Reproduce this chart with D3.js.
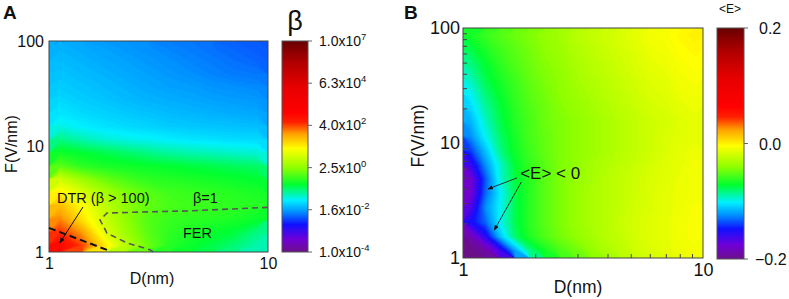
<!DOCTYPE html>
<html>
<head>
<meta charset="utf-8">
<script src="https://cdn.jsdelivr.net/npm/d3@7"></script>
<style>
body { margin: 0; background: #fff; }
text { font-family: "Liberation Sans", Arial, sans-serif; fill: #111; }
</style>
</head>
<body>
<script>
// ---- data ----
var dTicks = [1, 10];
var fTicks = [1, 10, 100];
var minorTicksD = [2, 3, 4, 5, 6, 7, 8, 9];
var minorTicksF = [2, 3, 4, 5, 6, 7, 8, 9, 20, 30, 40, 50, 60, 70, 80, 90];

var betaTicks = [1e-4, 1.6e-2, 2.5, 4.0e2, 6.3e4, 1e7];
var betaTickMantissa = ['1.0', '1.6', '2.5', '4.0', '6.3', '1.0'];
var betaTickExponent = ['-4', '-2', '0', '2', '4', '7'];
var energyTicks = [-0.2, 0.0, 0.2];

// colormap (position along the bar, colour)
var cmapPos = [0.00, 0.06, 0.13, 0.19, 0.245, 0.32, 0.40, 0.49, 0.56, 0.615, 0.66, 0.78, 0.90, 1.00];
var cmapColors = ['#6b1088', '#7000d8', '#1010ff', '#0090ff', '#00f0ff', '#00ff30', '#90ff00',
                  '#ffff00', '#ffa000', '#ff2000', '#ff0000', '#e80000', '#b00000', '#680000'];

// panel A: log10(beta), 10 columns (log D 0..1) x 16 rows (log F 2 -> 0, top row first)
var logBeta = [
  [-1.69, -1.75, -1.80, -1.86, -1.91, -1.97, -2.02, -2.08, -2.13, -2.19],
  [-1.64, -1.69, -1.75, -1.80, -1.86, -1.91, -1.97, -2.02, -2.08, -2.13],
  [-1.58, -1.64, -1.69, -1.75, -1.80, -1.86, -1.91, -1.97, -2.02, -2.04],
  [-1.53, -1.58, -1.64, -1.69, -1.75, -1.80, -1.83, -1.88, -1.91, -1.94],
  [-1.45, -1.53, -1.58, -1.64, -1.69, -1.72, -1.76, -1.80, -1.83, -1.86],
  [-1.36, -1.44, -1.49, -1.55, -1.59, -1.64, -1.67, -1.70, -1.73, -1.76],
  [-1.20, -1.31, -1.38, -1.44, -1.48, -1.53, -1.56, -1.58, -1.60, -1.62],
  [-0.81, -0.98, -1.11, -1.20, -1.25, -1.31, -1.36, -1.39, -1.42, -1.44],
  [-0.37, -0.48, -0.59, -0.70, -0.81, -0.92, -0.98, -1.03, -1.09, -1.14],
  [ 0.07, -0.21, -0.32, -0.37, -0.43, -0.48, -0.54, -0.59, -0.65, -0.70],
  [ 0.95,  0.51,  0.18, -0.04, -0.21, -0.26, -0.32, -0.37, -0.43, -0.48],
  [ 1.50,  1.06,  0.62,  0.29,  0.07, -0.10, -0.15, -0.21, -0.26, -0.32],
  [ 1.94,  1.39,  0.84,  0.40,  0.13, -0.04, -0.10, -0.15, -0.21, -0.26],
  [ 2.27,  1.61,  0.95,  0.40,  0.02, -0.15, -0.21, -0.26, -0.32, -0.43],
  [ 2.71,  2.16,  1.17,  0.51,  0.07, -0.21, -0.32, -0.43, -0.54, -0.81],
  [ 3.15,  2.60,  1.61,  0.73,  0.18, -0.26, -0.43, -0.59, -0.76, -0.98]
];

// panel B: <E>, 16 columns (log D 0..1) x 16 rows (log F 2 -> 0, top row first)
var energy = [
  [-.068, -.060, -.054, -.048, -.044, -.038, -.034, -.028, -.024, -.020, -.016, -.012, -.008, -.006, -.002, 0.000],
  [-.076, -.066, -.058, -.052, -.046, -.040, -.036, -.030, -.026, -.022, -.018, -.014, -.010, -.008, -.004, -.002],
  [-.084, -.072, -.062, -.054, -.048, -.042, -.038, -.032, -.028, -.024, -.020, -.016, -.012, -.010, -.006, -.004],
  [-.092, -.076, -.066, -.058, -.050, -.044, -.040, -.034, -.030, -.026, -.022, -.018, -.014, -.012, -.008, -.006],
  [-.100, -.082, -.070, -.060, -.052, -.046, -.040, -.036, -.032, -.028, -.024, -.020, -.016, -.014, -.010, -.008],
  [-.108, -.088, -.074, -.062, -.054, -.048, -.042, -.038, -.034, -.030, -.026, -.022, -.018, -.016, -.012, -.010],
  [-.116, -.094, -.076, -.064, -.056, -.048, -.044, -.040, -.036, -.032, -.028, -.024, -.020, -.018, -.014, -.012],
  [-.124, -.100, -.080, -.066, -.056, -.050, -.044, -.040, -.036, -.032, -.028, -.024, -.020, -.016, -.014, -.012],
  [-.140, -.112, -.084, -.068, -.058, -.050, -.044, -.040, -.036, -.032, -.028, -.024, -.020, -.016, -.012, -.010],
  [-.160, -.124, -.094, -.072, -.060, -.052, -.044, -.040, -.034, -.030, -.026, -.022, -.018, -.014, -.012, -.008],
  [-.180, -.136, -.096, -.074, -.062, -.052, -.044, -.038, -.034, -.028, -.024, -.020, -.016, -.014, -.010, -.008],
  [-.180, -.132, -.102, -.076, -.062, -.052, -.044, -.038, -.032, -.028, -.024, -.020, -.016, -.012, -.010, -.008],
  [-.168, -.124, -.100, -.076, -.062, -.052, -.044, -.038, -.032, -.028, -.024, -.018, -.016, -.012, -.010, -.006],
  [-.152, -.132, -.100, -.076, -.062, -.052, -.044, -.038, -.032, -.028, -.022, -.018, -.014, -.012, -.008, -.006],
  [-.188, -.156, -.112, -.080, -.064, -.054, -.046, -.040, -.034, -.028, -.024, -.018, -.014, -.012, -.008, -.006],
  [-.200, -.192, -.164, -.120, -.084, -.068, -.056, -.048, -.040, -.032, -.026, -.020, -.016, -.012, -.010, -.008]
];

// annotation lines (D, F)
var betaOneD = [10, 6.9, 4.3, 2.6, 1.84, 1.71, 1.84, 2.27, 2.89, 3.0];
var betaOneF = [2.65, 2.56, 2.45, 2.39, 2.34, 2.01, 1.51, 1.22, 1.05, 1.0];
var beta100D = [1, 1.9];
var beta100F = [1.69, 1.02];

var width = 789;
var height = 299;
var svg = d3.select('body')
            .append('svg')
            .attr('width', width)
            .attr('height', height);

svg.append('defs').append('marker')
   .attr('id', 'arrow')
   .attr('viewBox', '0 0 10 10')
   .attr('refX', 9).attr('refY', 5)
   .attr('markerWidth', 6).attr('markerHeight', 6)
   .attr('orient', 'auto')
   .append('path')
   .attr('d', 'M0,1 L10,5 L0,9 Z')
   .attr('fill', '#111');

function makeColor(lo, hi) {
    return d3.scaleLinear()
             .domain(cmapPos.map(function (t) { return lo + (hi - lo) * t; }))
             .range(cmapColors)
             .clamp(true);
}

// draws a gridded field: cells underneath, filled contour bands on top
function drawField(g, grid, x, y, color, thresholds, half, clipId) {
    var ny = grid.length, nx = grid[0].length;
    var gx = function (c) { return x(Math.pow(10, c / nx)); };
    var gy = function (r) { return y(Math.pow(10, 2 - 2 * r / ny)); };
    g.append('clipPath').attr('id', clipId)
     .append('rect')
     .attr('x', x(1)).attr('y', y(100))
     .attr('width', x(10) - x(1)).attr('height', y(1) - y(100));
    var body = g.append('g').attr('clip-path', 'url(#' + clipId + ')');

    var cells = [];
    grid.forEach(function (row, r) {
        row.forEach(function (v, c) { cells.push({ r: r, c: c, v: v }); });
    });
    body.selectAll('rect')
        .data(cells)
        .enter()
        .append('rect')
        .attr('x', function (d) { return gx(d.c) - 0.5; })
        .attr('y', function (d) { return gy(d.r) - 0.5; })
        .attr('width', function (d) { return gx(d.c + 1) - gx(d.c) + 1; })
        .attr('height', function (d) { return gy(d.r + 1) - gy(d.r) + 1; })
        .attr('fill', function (d) { return color(d.v); });

    var contours = d3.contours().size([nx, ny]).thresholds(thresholds)(grid.flat());
    var proj = d3.geoTransform({
        point: function (px, py) { this.stream.point(gx(px), gy(py)); }
    });
    var path = d3.geoPath(proj);
    body.selectAll('path')
        .data(contours)
        .enter()
        .append('path')
        .attr('d', path)
        .attr('fill', function (d) { return color(d.value + half); })
        .attr('stroke', function (d) { return color(d.value + half); })
        .attr('stroke-width', 0.4);
}

function drawColorbar(id, x0, y0, w, h, ticks, scale) {
    var grad = svg.select('defs').append('linearGradient')
                  .attr('id', id)
                  .attr('x1', 0).attr('y1', 1).attr('x2', 0).attr('y2', 0);
    grad.selectAll('stop')
        .data(cmapPos)
        .enter()
        .append('stop')
        .attr('offset', function (d) { return d; })
        .attr('stop-color', function (d, i) { return cmapColors[i]; });
    svg.append('rect')
       .attr('x', x0).attr('y', y0).attr('width', w).attr('height', h)
       .attr('fill', 'url(#' + id + ')')
       .attr('stroke', '#555').attr('stroke-width', 1);
    svg.selectAll('.tk-' + id)
       .data(ticks)
       .enter()
       .append('line')
       .attr('class', 'tk-' + id)
       .attr('x1', x0 + w).attr('x2', x0 + w + 4)
       .attr('y1', function (d) { return scale(d); })
       .attr('y2', function (d) { return scale(d); })
       .attr('stroke', '#666');
}

// ---------- panel A ----------
var xA = d3.scaleLog().domain([1, 10]).range([49, 268]);
var yA = d3.scaleLog().domain([1, 100]).range([252, 41]);
var colorA = makeColor(-4, 7);
var gA = svg.append('g');
drawField(gA, logBeta, xA, yA, colorA, d3.range(-2.4, 3.4, 0.04), 0.02, 'clipA');

gA.append('rect')
  .attr('x', xA(1)).attr('y', yA(100))
  .attr('width', xA(10) - xA(1)).attr('height', yA(1) - yA(100))
  .attr('fill', 'none').attr('stroke', '#444');

var lineA = d3.line()
              .x(function (d) { return xA(d[0]); })
              .y(function (d) { return yA(d[1]); });
gA.append('path')
  .attr('d', lineA(betaOneD.map(function (d, i) { return [d, betaOneF[i]]; })))
  .attr('fill', 'none').attr('stroke', '#555').attr('stroke-width', 1.6)
  .attr('stroke-dasharray', '6,4');
gA.append('path')
  .attr('d', lineA(beta100D.map(function (d, i) { return [d, beta100F[i]]; })))
  .attr('fill', 'none').attr('stroke', '#111').attr('stroke-width', 2)
  .attr('stroke-dasharray', '7,4');
gA.append('line')
  .attr('x1', xA(1.43)).attr('y1', yA(2.67))
  .attr('x2', xA(1.12)).attr('y2', yA(1.22))
  .attr('stroke', '#111').attr('stroke-width', 1)
  .attr('marker-end', 'url(#arrow)');

gA.append('text').attr('x', xA(1.088)).attr('y', yA(2.91))
  .attr('font-size', 14.5).text('DTR (β > 100)');
gA.append('text').attr('x', xA(4.54)).attr('y', yA(2.91))
  .attr('font-size', 14.5).text('β=1');
gA.append('text').attr('x', xA(4.09)).attr('y', yA(1.36))
  .attr('font-size', 14.5).text('FER');

var xAxisA = d3.axisBottom(xA).tickValues(dTicks).tickFormat(d3.format('d')).tickSize(0).tickPadding(6);
var yAxisA = d3.axisLeft(yA).tickValues(fTicks).tickFormat(d3.format('d')).tickSize(0).tickPadding(5);
gA.append('g').attr('transform', 'translate(0,' + yA(1) + ')').call(xAxisA)
  .call(function (g) { g.select('.domain').remove(); })
  .selectAll('text').attr('font-size', 16).attr('fill', '#111');
gA.append('g').attr('transform', 'translate(' + xA(1) + ',0)').call(yAxisA)
  .call(function (g) { g.select('.domain').remove(); })
  .selectAll('text').attr('font-size', 16).attr('fill', '#111');

gA.append('text').attr('x', 152).attr('y', 284).attr('text-anchor', 'middle')
  .attr('font-size', 16).text('D(nm)');
gA.append('text').attr('transform', 'translate(17,144) rotate(-90)').attr('text-anchor', 'middle')
  .attr('font-size', 16).text('F(V/nm)');
svg.append('text').attr('x', 3).attr('y', 19).attr('font-size', 19).attr('font-weight', 'bold').text('A');

// colorbar A
var cbA = d3.scaleLog().domain([1e-4, 1e7]).range([252, 41]);
drawColorbar('gradA', 282, 41, 26, 211, betaTicks, cbA);
var lblA = svg.selectAll('.lblA')
              .data(betaTicks)
              .enter()
              .append('text')
              .attr('class', 'lblA')
              .attr('x', 319)
              .attr('y', function (d) { return cbA(d) + 5; })
              .attr('font-size', 14);
lblA.append('tspan').text(function (d, i) { return betaTickMantissa[i] + 'x10'; });
lblA.append('tspan').attr('dy', -6).attr('font-size', 9.5)
    .text(function (d, i) { return betaTickExponent[i]; });
svg.append('text').attr('x', 295).attr('y', 30).attr('text-anchor', 'middle')
   .attr('font-size', 27).text('β');

// ---------- panel B ----------
var xB = d3.scaleLog().domain([1, 10]).range([463, 703]);
var yB = d3.scaleLog().domain([1, 100]).range([258, 28]);
var colorB = makeColor(-0.2, 0.2);
var gB = svg.append('g');
drawField(gB, energy, xB, yB, colorB, d3.range(-0.205, 0.006, 0.002), 0.001, 'clipB');

gB.append('rect')
  .attr('x', xB(1)).attr('y', yB(100))
  .attr('width', xB(10) - xB(1)).attr('height', yB(1) - yB(100))
  .attr('fill', 'none').attr('stroke', '#444');

// minor ticks drawn inside the frame
gB.append('g').attr('transform', 'translate(0,' + yB(1) + ')')
  .call(d3.axisBottom(xB).tickValues(minorTicksD).tickSize(-4).tickFormat(''))
  .call(function (g) { g.select('.domain').remove(); })
  .selectAll('line').attr('stroke', '#444');
gB.append('g').attr('transform', 'translate(' + xB(1) + ',0)')
  .call(d3.axisLeft(yB).tickValues(minorTicksF).tickSize(-4).tickFormat(''))
  .call(function (g) { g.select('.domain').remove(); })
  .selectAll('line').attr('stroke', '#444');

var xAxisB = d3.axisBottom(xB).tickValues(dTicks).tickFormat(d3.format('d')).tickSize(0).tickPadding(5);
var yAxisB = d3.axisLeft(yB).tickValues(fTicks).tickFormat(d3.format('d')).tickSize(0).tickPadding(3);
gB.append('g').attr('transform', 'translate(0,' + yB(1) + ')').call(xAxisB)
  .call(function (g) { g.select('.domain').remove(); })
  .selectAll('text').attr('font-size', 18).attr('fill', '#111');
gB.append('g').attr('transform', 'translate(' + xB(1) + ',0)').call(yAxisB)
  .call(function (g) { g.select('.domain').remove(); })
  .selectAll('text').attr('font-size', 18).attr('fill', '#111');

gB.append('text').attr('x', 578).attr('y', 293).attr('text-anchor', 'middle')
  .attr('font-size', 17.5).text('D(nm)');
gB.append('text').attr('transform', 'translate(424,136) rotate(-90)').attr('text-anchor', 'middle')
  .attr('font-size', 17.5).text('F(V/nm)');
svg.append('text').attr('x', 404).attr('y', 19).attr('font-size', 19).attr('font-weight', 'bold').text('B');

gB.append('text').attr('x', xB(1.73)).attr('y', yB(4.86))
  .attr('font-size', 17).text('<E> < 0');
gB.append('line')
  .attr('x1', xB(1.68)).attr('y1', yB(4.97))
  .attr('x2', xB(1.27)).attr('y2', yB(3.98))
  .attr('stroke', '#222').attr('stroke-width', 0.9)
  .attr('marker-end', 'url(#arrow)');
gB.append('line')
  .attr('x1', xB(1.75)).attr('y1', yB(4.58))
  .attr('x2', xB(1.35)).attr('y2', yB(1.75))
  .attr('stroke', '#222').attr('stroke-width', 0.9)
  .attr('marker-end', 'url(#arrow)');

// colorbar B
var cbB = d3.scaleLinear().domain([-0.2, 0.2]).range([259, 28]);
drawColorbar('gradB', 717, 28, 27, 231, energyTicks, cbB);
svg.selectAll('.lblB')
   .data(energyTicks)
   .enter()
   .append('text')
   .attr('class', 'lblB')
   .attr('x', function (d) { return d < 0 ? 755 : 759; })
   .attr('y', function (d) { return cbB(d) + 6; })
   .attr('font-size', 16)
   .text(d3.format('.1f'));
svg.append('text').attr('x', 730).attr('y', 13).attr('text-anchor', 'middle')
   .attr('font-size', 12).text('<E>');
</script>
</body>
</html>
